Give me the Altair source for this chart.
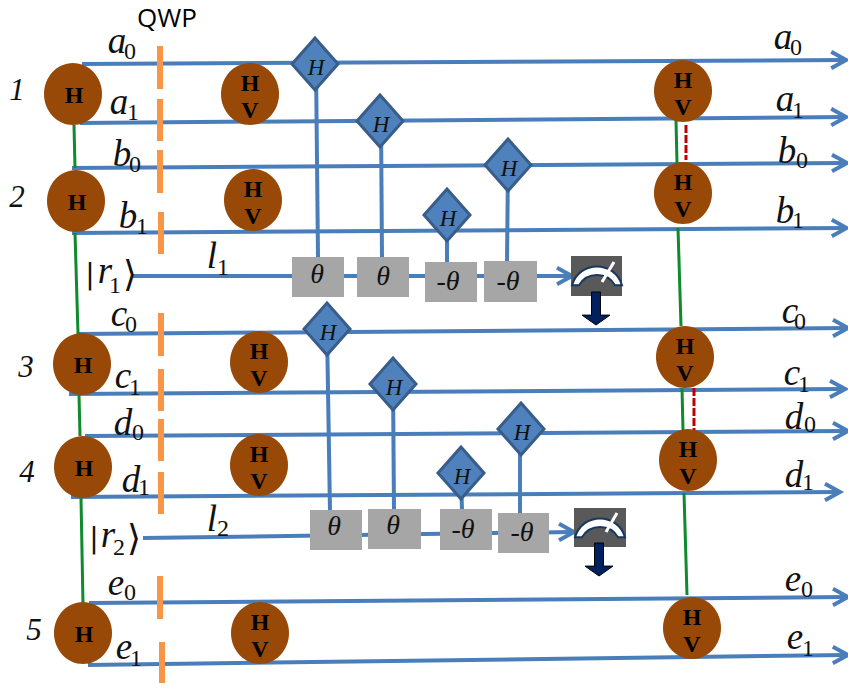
import altair as alt
import pandas as pd

# Each wire: x start, y start, x end, y end (in picture pixels)
wires = [
    (82, 64, 845, 60), (80, 123, 845, 117), (72, 168, 849, 163), (72, 233, 848, 228),
    (133, 276, 570, 276), (78, 334, 854, 328), (69, 394, 843, 389), (85, 436, 854, 431),
    (71, 497, 838, 492), (143, 538, 572, 532), (89, 603, 854, 597), (88, 665, 853, 655),
]
arrow_tips_x = [847, 847, 851, 850, 572, 856, 845, 856, 840, 574, 856, 855]
arrow_tips_y = [60, 117, 163, 228, 276, 328, 389, 431, 492, 532, 597, 655]
controls = [
    (316, 64, 318, 257), (381, 121, 382, 257), (447, 215, 447, 262), (508, 165, 507, 262),
    (327, 329, 330, 511), (393, 384, 394, 510), (461, 473, 462, 510), (520, 429, 520, 513),
]
green_links = [
    (74, 125, 75, 168), (75, 233, 78, 334), (79, 395, 80, 436), (81, 498, 83, 604),
    (676, 121, 677, 163), (678, 228, 681, 326), (682, 388, 683, 430), (684, 493, 687, 595),
]
red_links = [(686, 125, 686, 160), (694, 388, 694, 430)]
qwp = [
    (160, 46, 160, 89), (160, 99, 160, 141), (160, 150, 160, 193), (161, 212, 161, 254),
    (161, 313, 161, 356), (161, 369, 161, 411), (161, 419, 161, 461), (161, 472, 161, 514),
    (160, 576, 160, 619), (162, 642, 162, 685),
]
needles = [(602, 282, 614, 262), (606, 532, 617, 513)]

left_cx = [73, 76, 82, 83, 83]
left_cy = [94, 201, 364, 467, 633]
hv_cx = [250, 253, 259, 259, 260, 683, 683, 685, 688, 692]
hv_cy = [94, 200, 362, 465, 633, 91, 193, 357, 460, 628]
diamond_x = [315, 380, 508, 447, 327, 393, 521, 461]
diamond_y = [64, 121, 165, 215, 329, 384, 429, 473]

gray_boxes = [
    (292, 257, 344, 297), (357, 257, 409, 297), (425, 262, 477, 302), (484, 261, 537, 302),
    (310, 510, 362, 550), (368, 509, 421, 549), (440, 509, 492, 550), (498, 513, 549, 553),
]
meter_boxes = [(571, 256, 622, 296), (574, 508, 626, 547)]
dial_x = [597, 600]
dial_y = [274, 526]
readout_x = [596, 599]
readout_y = [308.5, 559.5]

letters = [
    ("a", 117, 42), ("a", 119, 103), ("b", 122, 155), ("b", 128, 217), ("l", 212, 257),
    ("r", 105, 272), ("c", 119, 315), ("c", 123, 377), ("d", 123, 424), ("d", 131, 481),
    ("l", 212, 520), ("r", 108, 536), ("e", 116, 584), ("e", 124, 648),
    ("a", 783, 38), ("a", 785, 100), ("b", 787, 152), ("b", 785, 212), ("c", 790, 312),
    ("c", 792, 374), ("d", 794, 418), ("d", 794, 476), ("e", 793, 580), ("e", 795, 638),
]
subs = [
    ("0", 130, 52), ("1", 133, 113), ("0", 135, 165), ("1", 142, 227), ("1", 223, 268),
    ("1", 115, 286), ("0", 131, 325), ("1", 135, 388), ("0", 138, 433), ("1", 144, 488),
    ("2", 223, 529), ("2", 119, 548), ("0", 130, 593), ("1", 136, 659),
    ("0", 796, 48), ("1", 798, 111), ("0", 802, 161), ("1", 798, 221), ("0", 800, 322),
    ("1", 804, 385), ("0", 810, 425), ("1", 808, 483), ("0", 807, 590), ("1", 808, 649),
]
ket_bars = [("|", 90, 276), ("|", 94, 540)]
ket_angles = [("⟩", 130, 275), ("⟩", 134, 539)]
numbers = [("1", 17, 91), ("2", 17, 198), ("3", 26, 368), ("4", 27, 473), ("5", 34, 631)]
thetas = [
    ("θ", 317, 275), ("θ", 383, 277), ("-θ", 448, 282), ("-θ", 508, 282),
    ("θ", 334, 527), ("θ", 393, 526), ("-θ", 463, 530), ("-θ", 522, 533),
]
title = [("QWP", 167, 19)]

# The drawing runs to the window's right edge, beyond the 840px the page leaves for it:
# the last few pixels are squeezed so that the arrowheads stay whole.
X = alt.Scale(domain=[8, 846, 856], range=[0, 838, 840])
Y = alt.Scale(domain=[683, 8])
BLUE = "#4a7ebb"


def segs(rows, color, width, dash=None):
    df = pd.DataFrame(rows, columns=["x", "y", "x2", "y2"])
    kw = {"color": color, "strokeWidth": width}
    if dash:
        kw["strokeDash"] = dash
    return alt.Chart(df).mark_rule(**kw).encode(
        x=alt.X("x:Q", scale=X, axis=None), y=alt.Y("y:Q", scale=Y, axis=None),
        x2="x2:Q", y2="y2:Q")


def rects(rows, color):
    df = pd.DataFrame(rows, columns=["x", "y", "x2", "y2"])
    return alt.Chart(df).mark_rect(color=color).encode(
        x=alt.X("x:Q", scale=X, axis=None), y=alt.Y("y:Q", scale=Y, axis=None),
        x2="x2:Q", y2="y2:Q")


def shapes(xs, ys, path, size, fill, stroke=None, width=0):
    df = pd.DataFrame({"x": xs, "y": ys})
    return alt.Chart(df).mark_point(
        shape=path, size=size, filled=True, fill=fill, stroke=stroke or fill,
        strokeWidth=width, opacity=1,
    ).encode(x=alt.X("x:Q", scale=X, axis=None), y=alt.Y("y:Q", scale=Y, axis=None))


def texts(rows, font, size, style="normal", weight="normal", color="#111111"):
    df = pd.DataFrame(rows, columns=["t", "x", "y"])
    return alt.Chart(df).mark_text(
        font=font, fontSize=size, fontStyle=style, fontWeight=weight, color=color,
        align="center", baseline="middle",
    ).encode(x=alt.X("x:Q", scale=X, axis=None), y=alt.Y("y:Q", scale=Y, axis=None), text="t:N")


ELLIPSE = ("M0,-1.07C0.552,-1.07 1,-0.591 1,0C1,0.591 0.552,1.07 0,1.07"
           "C-0.552,1.07 -1,0.591 -1,0C-1,-0.591 -0.552,-1.07 0,-1.07Z")
DIAMOND = "M0,-1.13L1,0L0,1.13L-1,0Z"
CHEVRON = "M-1,-0.55L0,0L-1,0.55"
DIAL = "M-1,0.45C-0.7,-0.55 0.7,-0.55 1,0.45L0.72,0.45C0.4,-0.1 -0.4,-0.1 -0.72,0.45Z"
DOWN = "M-0.27,-1L0.27,-1L0.27,0.4L0.85,0.4L0,1L-0.85,0.4L-0.27,0.4Z"

chevrons = alt.Chart(pd.DataFrame({"x": arrow_tips_x, "y": arrow_tips_y})).mark_point(
    shape=CHEVRON, size=900, filled=False, stroke=BLUE, strokeWidth=4, opacity=1,
).encode(x=alt.X("x:Q", scale=X, axis=None), y=alt.Y("y:Q", scale=Y, axis=None))

SERIF = "Liberation Serif"
layers = [
    segs(wires, BLUE, 4),
    chevrons,
    segs(controls, BLUE, 4),
    segs(green_links, "#0f8a2d", 3),
    segs(red_links, "#c00000", 3, [8, 2]),
    segs(qwp, "#f79646", 6),
    shapes(left_cx + hv_cx, left_cy + hv_cy, ELLIPSE, 3364, "#984807"),
    shapes(diamond_x, diamond_y, DIAMOND, 2116, "#4f81bd", "#385d8a", 3),
    rects(gray_boxes, "#a6a6a6"),
    rects(meter_boxes, "#595959"),
    shapes(dial_x, dial_y, DIAL, 2500, "#ffffff", "#17375e", 2),
    segs(needles, "#ffffff", 3),
    shapes(readout_x, readout_y, DOWN, 1089, "#002060", "#000000", 1),
    texts([("H", x + 1, y + 2) for x, y in zip(left_cx, left_cy)], SERIF, 24, weight="bold", color="#000000"),
    texts([("H", x, y - 10) for x, y in zip(hv_cx, hv_cy)], SERIF, 24, weight="bold", color="#000000"),
    texts([("V", x, y + 17) for x, y in zip(hv_cx, hv_cy)], SERIF, 24, weight="bold", color="#000000"),
    texts([("H", x + 1, y + 4) for x, y in zip(diamond_x, diamond_y)], SERIF, 23, "italic"),
    texts(letters, SERIF, 37, "italic"),
    texts(subs, SERIF, 24),
    texts(ket_bars, "DejaVu Sans", 28),
    texts(ket_angles, "DejaVu Sans", 36),
    texts(numbers, SERIF, 31, "italic"),
    texts(thetas, SERIF, 28, "italic"),
    texts(title, "Open Sans", 26, color="#000000"),
]

chart = alt.layer(*layers).properties(
    width=840, height=675, padding=0,
    autosize=alt.AutoSizeParams(type="none"),
    background="#ffffff",
).configure_view(stroke=None)

chart.save("out.html", embed_options={"renderer": "svg", "actions": False})
